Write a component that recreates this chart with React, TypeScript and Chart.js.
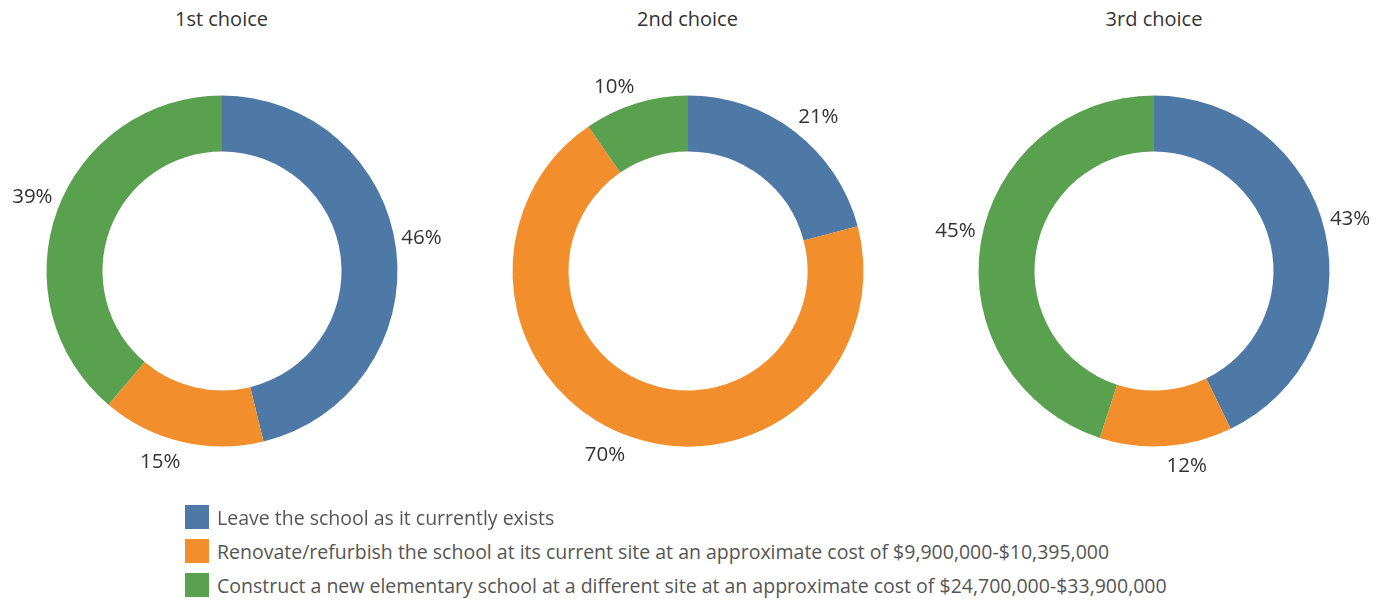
import React, { useEffect, useRef } from "react";
import { Chart, registerables } from "chart.js";

Chart.register(...registerables);

const titles = ["1st choice", "2nd choice", "3rd choice"];
const categories = [
  "Leave the school as it currently exists",
  "Renovate/refurbish the school at its current site at an approximate cost of $9,900,000-$10,395,000",
  "Construct a new elementary school at a different site at an approximate cost of $24,700,000-$33,900,000",
];
const colors = ["#4e79a7", "#f28e2b", "#59a14f"];
const firstChoice = [46.2, 15.0, 38.8];
const secondChoice = [20.9, 69.5, 9.6];
const thirdChoice = [42.8, 12.2, 45.0];
const displayLabels = [
  ["46%", "15%", "39%"],
  ["21%", "70%", "10%"],
  ["43%", "12%", "45%"],
];
const seriesList = [firstChoice, secondChoice, thirdChoice];

const FONT = "'Open Sans', sans-serif";
const CANVAS = 480;
const centersX = [221.5, 687.5, 1154];
const centerY = 270.5;

const labelPlugin = {
  id: "outsideLabels",
  afterDatasetsDraw(chart: any, _args: any, opts: any) {
    const ctx = chart.ctx;
    const meta = chart.getDatasetMeta(0);
    const labels: string[] = opts.labels || [];
    ctx.save();
    ctx.font = `20.5px ${FONT}`;
    ctx.fillStyle = "#333333";
    meta.data.forEach((arc: any, i: number) => {
      const { x, y, startAngle, endAngle, outerRadius } = arc.getProps(
        ["x", "y", "startAngle", "endAngle", "outerRadius"],
        true
      );
      const mid = (startAngle + endAngle) / 2;
      const r = outerRadius + 5;
      const px = x + Math.cos(mid) * r;
      const below = Math.sin(mid) >= 0;
      const py = y + Math.sin(mid) * r + (below ? 5 : -1);
      ctx.textAlign = Math.cos(mid) >= 0 ? "left" : "right";
      ctx.textBaseline = below ? "top" : "bottom";
      ctx.fillText(labels[i], px, py);
    });
    ctx.restore();
  },
};

function Donut({ idx }: { idx: number }) {
  const ref = useRef<HTMLCanvasElement>(null);
  useEffect(() => {
    if (!ref.current) return;
    const chart = new Chart(ref.current, {
      type: "doughnut",
      data: {
        labels: categories,
        datasets: [
          {
            data: seriesList[idx],
            backgroundColor: colors,
            borderWidth: 0,
          },
        ],
      },
      options: {
        responsive: false,
        animation: false,
        radius: 175.5,
        cutout: "68.1%",
        layout: { padding: 0 },
        plugins: {
          legend: { display: false },
          tooltip: { enabled: false },
          outsideLabels: { labels: displayLabels[idx] },
        } as any,
      } as any,
      plugins: [labelPlugin],
    });
    return () => chart.destroy();
  }, [idx]);
  return (
    <canvas
      ref={ref}
      width={CANVAS}
      height={CANVAS}
      style={{
        position: "absolute",
        left: centersX[idx] - CANVAS / 2,
        top: centerY - CANVAS / 2,
        width: CANVAS,
        height: CANVAS,
      }}
    />
  );
}

export default function App() {
  return (
    <div
      style={{
        position: "fixed",
        left: 0,
        top: 0,
        width: 1388,
        height: 600,
        background: "#ffffff",
        fontFamily: FONT,
        color: "#333333",
        overflow: "hidden",
      }}
    >
      {titles.map((t, i) => (
        <div
          key={t}
          style={{
            position: "absolute",
            left: centersX[i] - 100,
            width: 200,
            top: 5,
            textAlign: "center",
            fontSize: 20,
            lineHeight: "28px",
          }}
        >
          {t}
        </div>
      ))}
      {[0, 1, 2].map((i) => (
        <Donut key={i} idx={i} />
      ))}
      {categories.map((c, i) => (
        <div
          key={c}
          style={{
            position: "absolute",
            left: 185,
            top: 505 + i * 34,
            height: 24,
            display: "flex",
            alignItems: "center",
            whiteSpace: "nowrap",
          }}
        >
          <div style={{ width: 24, height: 24, background: colors[i] }} />
          <div style={{ marginLeft: 8, fontSize: 19.5, color: "#555555" }}>{c}</div>
        </div>
      ))}
    </div>
  );
}
